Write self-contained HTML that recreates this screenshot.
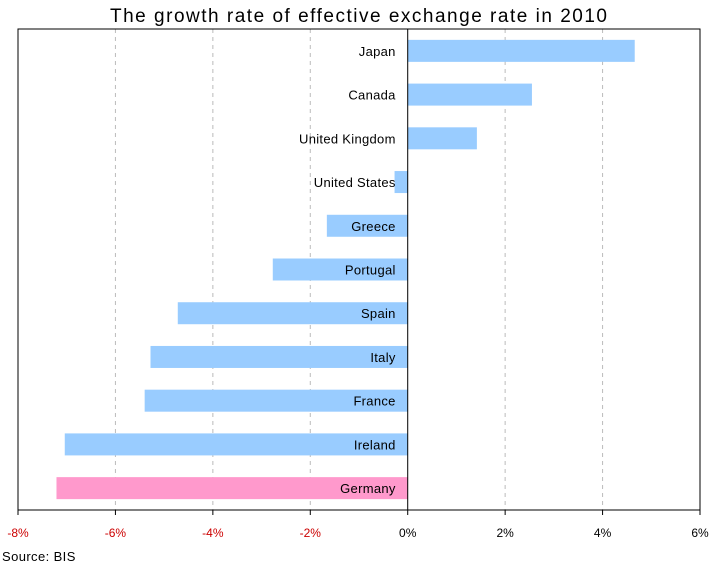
<!DOCTYPE html>
<html><head><meta charset="utf-8"><style>
body{margin:0;background:#fff;width:719px;height:564px;overflow:hidden}
text{font-family:"Liberation Sans","IPAGothic",sans-serif}
</style></head><body>
<svg id="chart" width="719" height="564" xmlns="http://www.w3.org/2000/svg">
<text x="110" y="22" font-size="19" textLength="497" lengthAdjust="spacing" fill="#000">The growth rate of effective exchange rate in 2010</text>
<g id="grid"></g><g id="bars"></g><g id="axis"></g>
<rect x="18" y="29" width="682" height="481" fill="none" stroke="#000" stroke-width="1"/>
<text x="2" y="561" font-size="13" letter-spacing="0.4" fill="#000">Source: BIS</text>
</svg>
<script>
const categories=["Japan","Canada","United Kingdom","United States","Greece","Portugal","Spain","Italy","France","Ireland","Germany"];
const values=[4.66,2.55,1.42,-0.27,-1.66,-2.77,-4.72,-5.28,-5.40,-7.04,-7.21];
const highlight=["Germany"];
const ticks=[-8,-6,-4,-2,0,2,4,6];
const tickLabels=["-8%","-6%","-4%","-2%","0%","2%","4%","6%"];
const NS="http://www.w3.org/2000/svg";
const L=18,R=700,T=29,B=510;
const x=v=>L+(v-(-8))/(14)*(R-L);
const band=(B-T)/categories.length;
const y=i=>T+band*i;
function mk(t,a,p){const e=document.createElementNS(NS,t);for(const k in a)e.setAttribute(k,a[k]);document.getElementById(p).appendChild(e);return e;}
ticks.forEach((t,i)=>{
  if(t!==-8&&t!==6&&t!==0){const g=mk("line",{x1:x(t),x2:x(t),y1:T,y2:B,stroke:"#bbb","stroke-dasharray":"4,4"},"grid");
  
  }
  const tk=mk("line",{x1:x(t),x2:x(t),y1:B,y2:B+5,stroke:"#000"},"axis");
  
  
  const lb=mk("text",{x:x(t),y:B+27,"text-anchor":"middle","font-size":"12",fill:t<0?"#cc0000":"#000"},"axis");
  lb.textContent=tickLabels[i];
  
  
});
categories.forEach((c,i)=>{
  const v=values[i];const cy=y(i)+band/2;
  const r=mk("rect",{x:Math.min(x(0),x(v)),y:cy-11,width:Math.abs(x(v)-x(0)),height:22,fill:highlight.includes(c)?"#ff99cc":"#99ccff"},"bars");
  
  
  const t=mk("text",{x:x(0)-12,y:cy+5,"text-anchor":"end","font-size":"13","letter-spacing":"0.3",fill:"#000"},"bars");
  t.textContent=c;
  
  
});
const z=mk("line",{x1:x(0),x2:x(0),y1:T,y2:B,stroke:"#000"},"axis");


</script>
</body></html>
